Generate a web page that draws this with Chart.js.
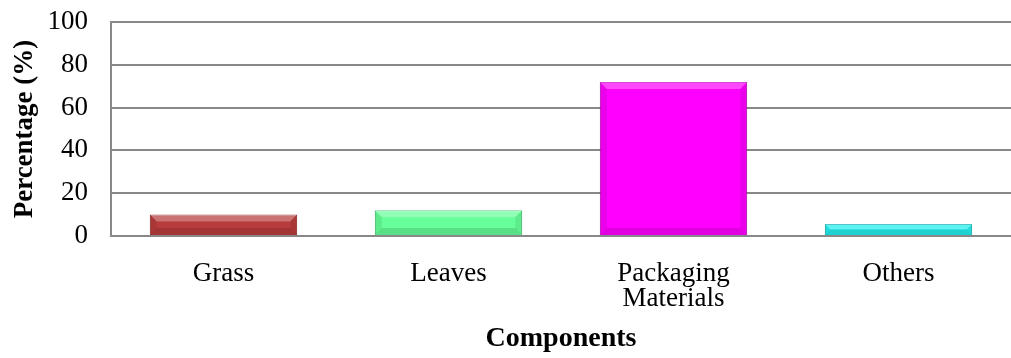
<!DOCTYPE html>
<html>
<head>
<meta charset="utf-8">
<script src="https://cdn.jsdelivr.net/npm/chart.js@4/dist/chart.umd.min.js"></script>
<style>
  html, body { margin: 0; padding: 0; background: #fff; }
  #wrap { width: 1011px; height: 358px; }
</style>
</head>
<body>
<div id="wrap"><canvas id="compChart"></canvas></div>
<script>
const categories = ["Grass", "Leaves", ["Packaging", "Materials"], "Others"]
const percentages = [10, 12, 72, 5.6]
const barColors = ["#B83C3C", "#66FF99", "#FF00FF", "#22EEEE"]
const edgeColors = ["#8E2A2A", "#40C070", "#C000C0", "#10B0B0"]
const yTicks = [0, 20, 40, 60, 80, 100]

// little bevel so the bars look like the office 3D style
const bevel = {
  id: "bevel",
  afterDatasetsDraw(chart) {
    const ctx = chart.ctx
    chart.getDatasetMeta(0).data.forEach((bar) => {
      const l = bar.x - bar.width / 2, r = bar.x + bar.width / 2
      const t = bar.y, b = bar.base
      const d = Math.min(7, (b - t) / 2)
      ctx.save()
      ctx.fillStyle = "rgba(255,255,255,0.28)"
      ctx.beginPath()
      ctx.moveTo(l, t); ctx.lineTo(r, t); ctx.lineTo(r - d, t + d); ctx.lineTo(l + d, t + d)
      ctx.fill()
      ctx.fillStyle = "rgba(0,0,0,0.12)"
      ctx.beginPath()
      ctx.moveTo(l, b); ctx.lineTo(r, b); ctx.lineTo(r - d, b - d); ctx.lineTo(l + d, b - d)
      ctx.fill()
      ctx.fillStyle = "rgba(0,0,0,0.08)"
      ctx.beginPath()
      ctx.moveTo(l, t); ctx.lineTo(l + d, t + d); ctx.lineTo(l + d, b - d); ctx.lineTo(l, b)
      ctx.fill()
      ctx.beginPath()
      ctx.moveTo(r, t); ctx.lineTo(r - d, t + d); ctx.lineTo(r - d, b - d); ctx.lineTo(r, b)
      ctx.fill()
      ctx.restore()
    })
  }
}

const family = "'Liberation Serif', 'Times New Roman', serif"

var config = {
  type: "bar",
  data: {
    labels: categories,
    datasets: [{
      data: percentages,
      backgroundColor: barColors,
      borderColor: edgeColors,
      borderWidth: 1,
      barPercentage: 0.655,
      categoryPercentage: 1
    }]
  },
  options: {
    responsive: true,
    maintainAspectRatio: false,
    animation: false,
    layout: { padding: { top: 22, right: 0, left: 6, bottom: 4 } },
    plugins: { legend: { display: false }, tooltip: { enabled: false } },
    scales: {
      x: {
        afterFit: (axis) => { axis.height = 118; axis.paddingTop = 0 },
        grid: { display: false },
        border: { color: "#888", width: 2 },
        ticks: { color: "#000", font: { family: family, size: 27, lineHeight: 0.93 }, maxRotation: 0, autoSkip: false, padding: 17 },
        title: {
          display: true, text: "Components", color: "#000",
          font: { family: family, size: 28, weight: "bold", lineHeight: 1.1 }, padding: { top: 0, bottom: 0 }
        }
      },
      y: {
        min: 0, max: 100,
        afterBuildTicks: (axis) => { axis.ticks = yTicks.map(v => ({ value: v })) },
        afterFit: (axis) => { axis.width = 105; axis.paddingTop = 0 },
        grid: { color: "#888", lineWidth: 2, drawTicks: false },
        border: { color: "#888", width: 2 },
        ticks: { color: "#000", font: { family: family, size: 27 }, autoSkip: false, padding: 23 },
        title: {
          display: true, text: "Percentage (%)", color: "#000",
          font: { family: family, size: 27, weight: "bold", lineHeight: 1.1 }, padding: { top: 4, bottom: 0 }
        }
      }
    }
  },
  plugins: [bevel]
}

var compChart = new Chart(document.getElementById("compChart"), config)
</script>
</body>
</html>
